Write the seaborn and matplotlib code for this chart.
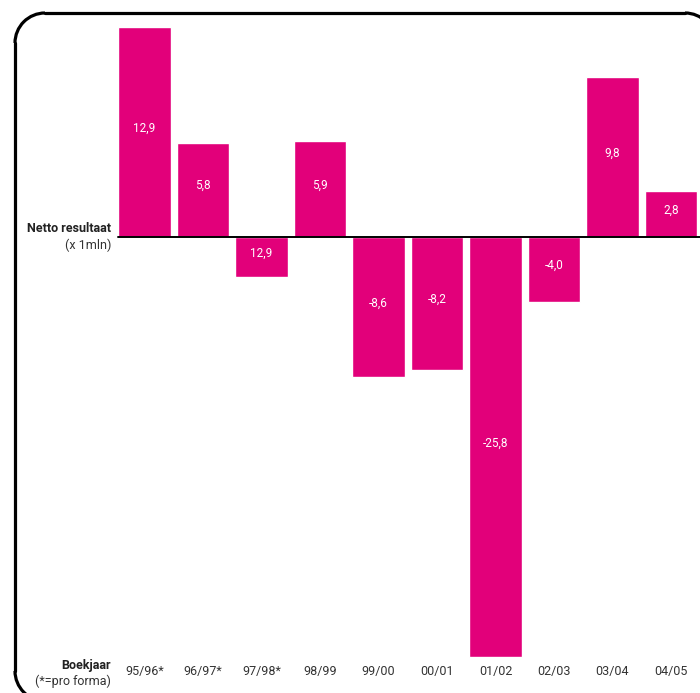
import matplotlib
matplotlib.use("Agg")
import matplotlib.pyplot as plt
from matplotlib.patches import Arc
from matplotlib.lines import Line2D
from matplotlib.transforms import IdentityTransform
import pandas as pd
import seaborn as sns

# data
jaren = ["95/96*", "96/97*", "97/98*", "98/99", "99/00",
         "00/01", "01/02", "02/03", "03/04", "04/05"]
resultaat = [12.9, 5.8, -2.45, 5.9, -8.6, -8.2, -25.8, -4.0, 9.8, 2.8]
labels = ["12,9", "5,8", "12,9", "5,9", "-8,6", "-8,2", "-25,8", "-4,0", "9,8", "2,8"]

roze = "#E2007A"

sns.set_style("white")
plt.rcParams['font.family'] = ['Roboto', 'DejaVu Sans']

df = pd.DataFrame({"jaar": jaren, "resultaat": resultaat})

fig = plt.figure(figsize=(7, 6.93), dpi=100)
ax = fig.add_axes([0, 0, 1, 1])

sns.barplot(data=df, x="jaar", y="resultaat", color=roze, width=0.9,
            saturation=1, ax=ax, zorder=2)

# pixel mapping: centre bar i at 144.5 + 58.5*i, zero at y=237, 16.28 px/unit
ax.set_xlim(-144.5 / 58.5, (700 - 144.5) / 58.5)
ax.set_ylim((237 - 693) / 16.28, 237 / 16.28)
ax.axis("off")

ax.axhline(0, xmin=118 / 700, xmax=1, color="black", lw=1.4, zorder=3)

for i, (v, lab) in enumerate(zip(resultaat, labels)):
    ax.text(i, v / 2 + 0.25, lab, ha="center", va="center",
            color="white", fontsize=8.5, zorder=4)

tr = ax.get_xaxis_transform()
for i, j in enumerate(jaren):
    ax.text(i, 1 - 672 / 693, j, transform=tr, ha="center", va="center",
            color="#333333", fontsize=9)

fig.text(111 / 700, 1 - 229 / 693, "Netto resultaat", ha="right", va="center",
         fontsize=9, fontweight="bold", color="#222222")
fig.text(111 / 700, 1 - 245 / 693, "(x 1mln)", ha="right", va="center",
         fontsize=9, color="#333333")
fig.text(111 / 700, 1 - 665 / 693, "Boekjaar", ha="right", va="center",
         fontsize=9, fontweight="bold", color="#222222")
fig.text(111 / 700, 1 - 681 / 693, "(*=pro forma)", ha="right", va="center",
         fontsize=9, color="#333333")

# rounded frame (pixels, origin bottom-left), running off right and bottom
px = IdentityTransform()
r = 30
lijn = dict(color="black", lw=2.3, transform=px)
fig.add_artist(Line2D([15 + r, 685], [680, 680], **lijn))
fig.add_artist(Line2D([15, 15], [680 - r, 22], **lijn))
for cx, cy, a1, a2 in [(45, 650, 90, 180), (685, 650, 0, 90), (45, 22, 180, 270)]:
    fig.add_artist(Arc((cx, cy), 2 * r, 2 * r, theta1=a1, theta2=a2,
                       color="black", lw=2.3, transform=px))

fig.savefig("out.png", dpi=100)
